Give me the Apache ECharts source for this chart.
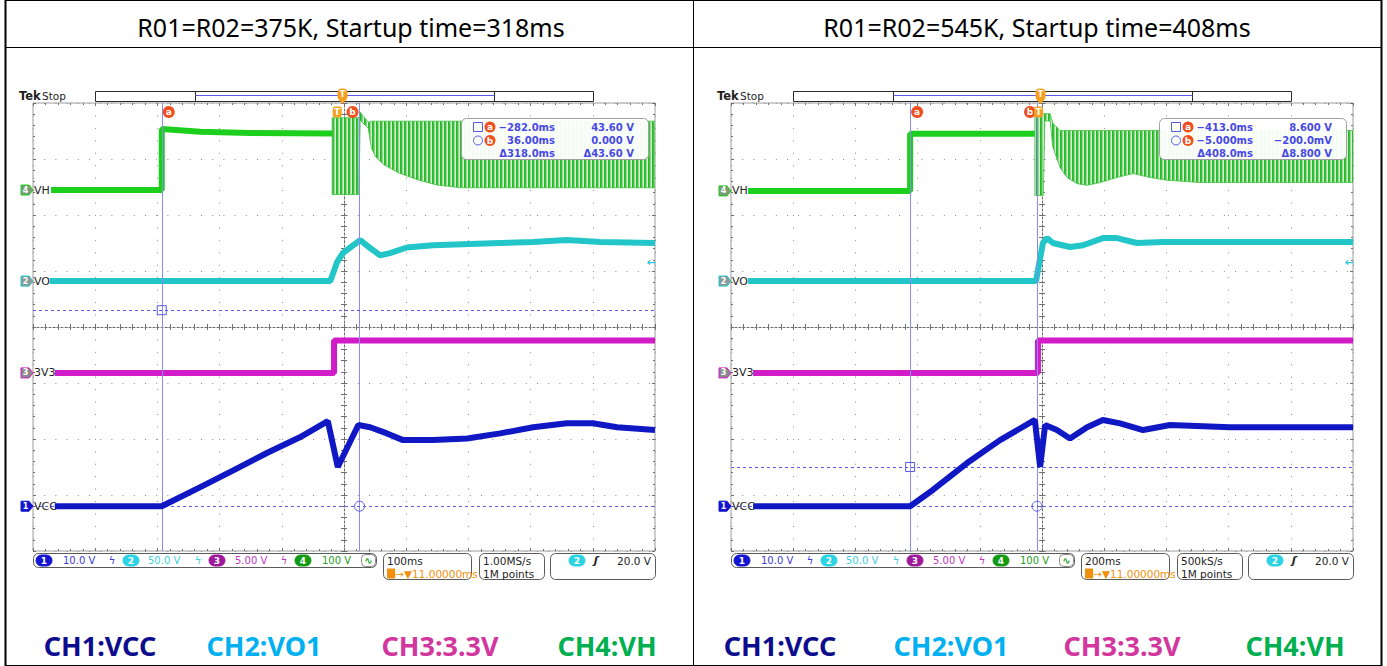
<!DOCTYPE html>
<html><head><meta charset="utf-8">
<script src="https://cdn.jsdelivr.net/npm/echarts@6/dist/echarts.min.js"></script>
<style>html,body{margin:0;padding:0;background:#fff;}#c{width:1387px;height:666px;}</style>
</head><body><div id="c"></div>
<script>
// ================= DATA =================
const panelTitles = ['R01=R02=375K, Startup time=318ms', 'R01=R02=545K, Startup time=408ms'];
const legendLabels = ['CH1:VCC', 'CH2:VO1', 'CH3:3.3V', 'CH4:VH'];
const channelNames = ['VCC', 'VO', '3V3', 'VH'];
const channelNums = ['1', '2', '3', '4'];
const voltsPerDiv = [10, 50, 5, 100];            // CH1..CH4
const voltsLabels = ['10.0 V', '50.0 V', '5.00 V', '100 V'];
const timePerDiv = [100, 200];                   // ms / div
const timeLabels = ['100ms', '200ms'];
const triggerDelay = 11;                         // ms
const triggerLabel = '11.00000ms';
const rateLabels = ['1.00MS/s', '500kS/s'];
const pointLabels = ['1M points', '1M points'];
const trigLevelLabel = '20.0 V';
const cursorA = [-282, -413];                    // ms
const cursorB = [36, -5];                        // ms
const readouts = [
  [['\u2212282.0ms', '43.60 V'], ['36.00ms', '0.000 V'], ['\u0394318.0ms', '\u039443.60 V']],
  [['\u2212413.0ms', '8.600 V'], ['\u22125.000ms', '\u2212200.0mV'], ['\u0394408.0ms', '\u03948.800 V']]
];

// ---- left panel traces: [time ms, volts] ----
const L_VCC = [[-454,0],[-282,0],[-220,3.4],[-167,6.4],[-113,9.5],[-60,12.3],[-15,15.2],[1,7.0],[34,14.5],[53,14.1],[80,13.0],[106,11.8],[154,11.8],[209,12.1],[262,13.0],[315,14.1],[369,14.8],[411,14.8],[450,14.1],[511,13.6]];
const L_VO  = [[-462,0],[-11,0],[0,17],[9,25],[21,30],[37,36.6],[53,29.5],[69,23],[85,25],[112,30],[154,32],[262,34],[315,35],[369,36.6],[423,35],[511,34]];
const L_3V3 = [[-454,0],[-5,0],[-5,2.9],[511,2.9]];
const L_VH  = [[-460,0],[-282,0],[-282,109],[-220,104],[-140,102],[-8,101]];
const L_VH_T  = [-8, 35, 37, 50, 55, 62, 75, 100, 130, 160, 200, 511];
const L_VH_HI = [129, 129, 139, 121, 123, 123, 123, 123, 123, 123, 123, 123];
const L_VH_LO = [-8, -8, 125, 110, 75, 59, 45, 30, 18, 9, 4, 4];

// ---- right panel traces ----
const R_VCC = [[-918,0],[-413,0],[-340,2.9],[-230,7.7],[-124,11.8],[-12,15.4],[5,7.0],[21,14.5],[59,13.6],[101,12.1],[156,14.1],[207,15.4],[262,14.8],[336,13.6],[423,14.5],[615,14.1],[1011,14.1]];
const R_VO  = [[-934,0],[-8,0],[-2,9.8],[14,34],[27,38.4],[46,34],[101,30.4],[143,32],[207,38.4],[252,38.4],[316,34],[400,34.8],[615,34.8],[1011,34.8]];
const R_3V3 = [[-918,0],[-2,0],[-2,2.9],[1011,2.9]];
const R_VH  = [[-934,0],[-413,0],[-413,102],[-12,102]];
const R_VH_T  = [-12, 15, 20, 37, 46, 69, 91, 124, 156, 198, 252, 304, 358, 413, 519, 735, 1011];
const R_VH_HI = [138, 138, 138, 138, 121, 108, 108, 108, 108, 108, 108, 108, 108, 108, 108, 108, 108];
const R_VH_LO = [-8, -8, 125, 125, 78, 42, 24, 13, 10, 15, 24, 31, 24, 19, 15, 15, 15];

// ================= LAYOUT / STYLE =================
const chOffset = [[-3.2, 0.82, -0.82, 2.446], [-3.2, 0.82, -0.82, 2.43]]; // ground marker, divisions from centre
const cursorLevel = [[0.30, -3.2], [-2.5, -3.2]];                        // horizontal cursor positions (div)
const chColor = ['#1018c4', '#22c6c8', '#d21cc8', '#1ccf1c'];
const chUiColor = ['#3c3cdc', '#3ccfe0', '#c038c0', '#22a022'];
const chTagFill = ['#1414d2', '#8a9a9a', '#8a8a8a', '#7a9a7a'];
const chBadge = ['#1414d2', '#2ad4e4', '#a0189c', '#129a12'];
const legendColors = ['#0c0c8c', '#00b0f0', '#d2379e', '#00b050'];
const GX = [33, 731], GY = 103, GW = 622, GH = 448;
const DIV = 56;
const scopeFont = '"DejaVu Sans", Verdana, sans-serif';

const pattern = (() => {
  const c = document.createElement('canvas'); c.width = 4; c.height = 4;
  const g = c.getContext('2d');
  const cols = ['#26b826', '#3cc43c', '#92d892', '#d4f0d4'];
  for (let i = 0; i < 4; i++) { g.fillStyle = cols[i]; g.fillRect(i, 0, 1, 4); }
  return { image: c.toDataURL(), repeat: 'repeat', imageWidth: 4, imageHeight: 4 };
})();

const traces = [
  { VCC: L_VCC, VO: L_VO, V33: L_3V3, VH: L_VH, T: L_VH_T, HI: L_VH_HI, LO: L_VH_LO },
  { VCC: R_VCC, VO: R_VO, V33: R_3V3, VH: R_VH, T: R_VH_T, HI: R_VH_HI, LO: R_VH_LO }
];

const toDiv = (arr, off, sc) => arr.map(([t, v]) => [t, off + v / sc]);

const chart = echarts.init(document.getElementById('c'), null, { renderer: 'svg', width: 1387, height: 666 });

const grids = [], xAxes = [], yAxes = [], series = [], graphics = [];
const tickStyle = { color: '#707070', width: 1 };

function divAxis(extra) {
  return Object.assign({
    type: 'value', min: -5, max: 5, interval: 1, axisLabel: { show: false },
    splitLine: { show: false }, axisLine: { show: false, onZero: false },
    axisTick: { show: false }, minorTick: { show: false }, silent: true
  }, extra);
}

for (let p = 0; p < 2; p++) {
  const dx = GX[p] - GX[0];
  grids.push({ left: GX[p], top: GY, width: GW, height: GH, show: true, borderColor: '#9c9c9c', borderWidth: 1, backgroundColor: 'rgba(0,0,0,0)' });
  const tMin = triggerDelay - 5 * timePerDiv[p], tMax = triggerDelay + 5 * timePerDiv[p];
  const xi = xAxes.length, yi = yAxes.length;
  xAxes.push({ type: 'value', gridIndex: p, min: tMin, max: tMax, show: false, position: 'top' });
  xAxes.push(divAxis({ gridIndex: p, position: 'bottom',
    splitLine: { show: true, lineStyle: { color: '#8c8c8c', type: [1, 11.44], width: 1 } },
    axisLine: { show: true, onZero: true, onZeroAxisIndex: yi, lineStyle: { color: '#6a6a6a', type: [2, 2], width: 1 } },
    axisTick: { show: true, length: 3, lineStyle: tickStyle },
    minorTick: { show: true, splitNumber: 5, length: 3, lineStyle: tickStyle } }));
  xAxes.push(divAxis({ gridIndex: p, position: 'bottom',
    axisLine: { show: false, onZero: true, onZeroAxisIndex: yi },
    axisTick: { show: true, inside: true, length: 3, lineStyle: tickStyle },
    minorTick: { show: true, splitNumber: 5, length: 3, lineStyle: tickStyle } }));
  xAxes.push(divAxis({ gridIndex: p, position: 'top',
    axisTick: { show: true, inside: true, length: 3, lineStyle: tickStyle },
    minorTick: { show: true, splitNumber: 5, length: 2, lineStyle: tickStyle } }));
  xAxes.push(divAxis({ gridIndex: p, position: 'bottom',
    axisTick: { show: true, inside: true, length: 3, lineStyle: tickStyle },
    minorTick: { show: true, splitNumber: 5, length: 2, lineStyle: tickStyle } }));

  yAxes.push(divAxis({ gridIndex: p, min: -4, max: 4, position: 'left',
    splitLine: { show: true, lineStyle: { color: '#8c8c8c', type: [1, 10.2], width: 1 } },
    axisLine: { show: true, onZero: true, onZeroAxisIndex: xi + 1, lineStyle: { color: '#6a6a6a', type: [2, 2], width: 1 } },
    axisTick: { show: true, length: 3, lineStyle: tickStyle },
    minorTick: { show: true, splitNumber: 5, length: 3, lineStyle: tickStyle } }));
  yAxes.push(divAxis({ gridIndex: p, min: -4, max: 4, position: 'left',
    axisLine: { show: false, onZero: true, onZeroAxisIndex: xi + 1 },
    axisTick: { show: true, inside: true, length: 3, lineStyle: tickStyle },
    minorTick: { show: true, splitNumber: 5, length: 3, lineStyle: tickStyle } }));
  yAxes.push(divAxis({ gridIndex: p, min: -4, max: 4, position: 'left',
    axisTick: { show: true, inside: true, length: 3, lineStyle: tickStyle },
    minorTick: { show: true, splitNumber: 5, length: 2, lineStyle: tickStyle } }));
  yAxes.push(divAxis({ gridIndex: p, min: -4, max: 4, position: 'right',
    axisTick: { show: true, inside: true, length: 3, lineStyle: tickStyle },
    minorTick: { show: true, splitNumber: 5, length: 2, lineStyle: tickStyle } }));

  const tr = traces[p], off = chOffset[p];
  const base = { type: 'line', xAxisIndex: xi, yAxisIndex: yi, showSymbol: false, symbol: 'none', silent: true, animation: false };
  const cur = '#8a8af2', curH = '#5a5ae6';
  const lbl = (s) => ({ show: true, formatter: s, color: '#fff', fontSize: 9, fontWeight: 'bold', position: 'inside', fontFamily: 'DejaVu Sans' });
  series.push(Object.assign({}, base, {
    name: 'VCC' + p, data: toDiv(tr.VCC, off[0], voltsPerDiv[0]), z: 5,
    lineStyle: { color: chColor[0], width: 6 },
    markLine: { silent: true, symbol: ['none', 'none'], animation: false, label: { show: false },
      data: [
        { xAxis: cursorA[p], lineStyle: { color: cur, width: 1, type: 'solid' } },
        { xAxis: cursorB[p], lineStyle: { color: cur, width: 1, type: 'solid' } },
        { yAxis: cursorLevel[p][0], lineStyle: { color: curH, width: 1, type: [3, 3] } },
        { yAxis: cursorLevel[p][1], lineStyle: { color: curH, width: 1, type: [3, 3] } }
      ] },
    markPoint: { silent: true, animation: false,
      data: [
        { coord: [cursorA[p], cursorLevel[p][0]], symbol: 'rect', symbolSize: 9, itemStyle: { color: 'rgba(255,255,255,0)', borderColor: curH, borderWidth: 1 }, label: { show: false } },
        { coord: [cursorB[p], cursorLevel[p][1]], symbol: 'circle', symbolSize: 10, itemStyle: { color: 'rgba(255,255,255,0)', borderColor: curH, borderWidth: 1 }, label: { show: false } },
        { coord: [cursorA[p], 3.84], symbol: 'circle', symbolSize: 12, symbolOffset: [7, 0], itemStyle: { color: '#f0501e' }, label: lbl('a') },
        { coord: [cursorB[p], 3.84], symbol: 'circle', symbolSize: 12, symbolOffset: [-7, 0], itemStyle: { color: '#f0501e' }, label: lbl('b') },
        { coord: [0, 3.84], symbol: 'roundRect', symbolSize: [9, 11], itemStyle: { color: '#f5a020' }, label: lbl('T') }
      ] }
  }));
  series.push(Object.assign({}, base, { name: 'VO' + p, data: toDiv(tr.VO, off[1], voltsPerDiv[1]), z: 4, lineStyle: { color: chColor[1], width: 6 } }));
  series.push(Object.assign({}, base, { name: '3V3' + p, data: toDiv(tr.V33, off[2], voltsPerDiv[2]), z: 4, lineStyle: { color: chColor[2], width: 6 } }));
  series.push(Object.assign({}, base, { name: 'VH' + p, data: toDiv(tr.VH, off[3], voltsPerDiv[3]), z: 4, lineStyle: { color: chColor[3], width: 6 } }));
  const band = tr.T.map((t, i) => [t, off[3] + tr.LO[i] / voltsPerDiv[3], off[3] + tr.HI[i] / voltsPerDiv[3]]);
  series.push({ type: 'custom', name: 'VHosc' + p, xAxisIndex: xi, yAxisIndex: yi, data: band, encode: { x: 0, y: [1, 2] },
    clip: true, silent: true, animation: false, z: 3,
    renderItem: function (params, api) {
      if (params.dataIndex !== 0) return null;
      const up = [], dn = [];
      band.forEach(d => { up.push(api.coord([d[0], d[2]])); dn.push(api.coord([d[0], d[1]])); });
      return { type: 'polygon', shape: { points: up.concat(dn.reverse()) }, style: { fill: pattern, stroke: '#40c040', lineWidth: 0.8 } };
    } });

  // ---------- scope decorations (graphic) ----------
  const T = (x, y, text, font, fill, align, extra) => Object.assign({ type: 'text', silent: true, z: 20,
    style: { x: x, y: y, text: text, font: font, fill: fill, align: align || 'left', textAlign: align || 'left', verticalAlign: 'middle', textVerticalAlign: 'middle' } }, extra || {});
  const R = (x, y, w, h, r, stroke, fill, extra) => Object.assign({ type: 'rect', silent: true, z: 18,
    shape: { x: x, y: y, width: w, height: h, r: r }, style: { stroke: stroke, fill: fill || 'rgba(0,0,0,0)', lineWidth: 1 } }, extra || {});
  const L = (x1, y1, x2, y2, stroke, w) => ({ type: 'line', silent: true, z: 19, shape: { x1, y1, x2, y2 }, style: { stroke, lineWidth: w || 1 } });

  graphics.push(T(19 + dx, 96, 'Tek', 'bold 11.5px ' + scopeFont, '#1e1e1e'));
  graphics.push(T(42 + dx, 96, 'Stop', '10.5px ' + scopeFont, '#1e1e1e'));
  graphics.push(R(95.5 + dx, 91.5, 498, 10, 0, '#2a2a2a', '#fff'));
  graphics.push(L(195.5 + dx, 91.5, 195.5 + dx, 101.5, '#2a2a2a'));
  graphics.push(L(494.5 + dx, 91.5, 494.5 + dx, 101.5, '#2a2a2a'));
  graphics.push(L(195.5 + dx, 95.5, 494.5 + dx, 95.5, '#5a5ae6'));
  graphics.push(R(338 + dx, 89, 9, 11, 3, '#f5a020', '#f5a020', { z: 21 }));
  graphics.push(T(342.5 + dx, 94.5, 'T', 'bold 8px ' + scopeFont, '#fff', 'center', { z: 22 }));
  graphics.push({ type: 'polygon', silent: true, z: 21, shape: { points: [[339 + dx, 100], [346 + dx, 100], [342.5 + dx, 104]] }, style: { fill: '#f5a020' } });

  for (let c = 0; c < 4; c++) {
    const y = GY + (4 - off[c]) * DIV;
    graphics.push({ type: 'polygon', silent: true, z: 20, shape: { points: [[21 + dx, y - 5], [29 + dx, y - 5], [33 + dx, y], [29 + dx, y + 5], [21 + dx, y + 5]] },
      style: { fill: chTagFill[c], stroke: chColor[c], lineWidth: 1 } });
    graphics.push(T(25.5 + dx, y, channelNums[c], 'bold 8px ' + scopeFont, '#fff', 'center', { z: 21 }));
    graphics.push(T(34 + dx, y, channelNames[c], '11px ' + scopeFont, '#222', 'left', { z: 21 }));
  }

  graphics.push(R(461.5 + dx, 118.5, 187, 41, 5, '#a0a0a0', 'rgba(255,255,255,0.95)', { z: 18 }));
  const rowY = [127, 140.5, 153.5];
  graphics.push(R(473.5 + dx, 122.5, 9, 9, 0, curH, 'rgba(0,0,0,0)', { z: 20 }));
  graphics.push({ type: 'circle', silent: true, z: 20, shape: { cx: 478 + dx, cy: 140.5, r: 4.5 }, style: { stroke: curH, fill: 'rgba(0,0,0,0)' } });
  ['a', 'b'].forEach((s, i) => {
    graphics.push({ type: 'circle', silent: true, z: 20, shape: { cx: 490 + dx, cy: rowY[i], r: 5.5 }, style: { fill: '#f0501e' } });
    graphics.push(T(490 + dx, rowY[i], s, 'bold 9px ' + scopeFont, '#fff', 'center', { z: 21 }));
  });
  readouts[p].forEach((row, i) => {
    graphics.push(T(555 + dx, rowY[i], row[0], 'bold 10px ' + scopeFont, '#4848e6', 'right'));
    graphics.push(T(634 + dx, rowY[i], row[1], 'bold 10px ' + scopeFont, '#4848e6', 'right'));
  });
  graphics.push(T(651 + dx, 262, '\u2190', 'bold 11px ' + scopeFont, '#22c6d8', 'center'));

  const sy = 560.5;
  graphics.push(R(33.5 + dx, 553.5, 343, 14, 5, '#5a5a5a', '#fff'));
  const badgeX = [44, 131, 217, 303], valX = [63, 148, 235, 322], glyphX = [112, 198, 284];
  for (let c = 0; c < 4; c++) {
    graphics.push(R(badgeX[c] - 8 + dx, sy - 5.5, 16, 11, 5.5, chBadge[c], chBadge[c], { z: 19 }));
    graphics.push(T(badgeX[c] + dx, sy, channelNums[c], 'bold 9px ' + scopeFont, '#fff', 'center', { z: 21 }));
    graphics.push(T(valX[c] + dx, sy, voltsLabels[c], '10px ' + scopeFont, chUiColor[c]));
    if (c < 3) graphics.push(T(glyphX[c] + dx, sy, '\u03df', '10px ' + scopeFont, chUiColor[c], 'center'));
  }
  graphics.push(R(361.5 + dx, 554.5, 14, 12, 4, '#8a8a8a', '#fff'));
  graphics.push(T(368.5 + dx, sy, '\u223f', 'bold 10px ' + scopeFont, '#22a022', 'center', { z: 21 }));

  graphics.push(R(383.5 + dx, 553.5, 88, 26, 5, '#5a5a5a', '#fff'));
  graphics.push(T(387 + dx, sy, timeLabels[p], '10.5px ' + scopeFont, '#1e1e1e'));
  graphics.push({ type: 'text', silent: true, z: 20,
    style: { x: 387 + dx, y: 573.5, text: '{t|T}\u2192\u25bc' + triggerLabel, font: '10.5px ' + scopeFont, fill: '#f0900c', align: 'left', textAlign: 'left', verticalAlign: 'middle', textVerticalAlign: 'middle',
      rich: { t: { backgroundColor: '#f0900c', color: '#fff', fontSize: 9, fontWeight: 'bold', padding: [1, 1, 0, 1], fontFamily: 'DejaVu Sans' } } } });
  graphics.push(R(479.5 + dx, 553.5, 65, 26, 5, '#5a5a5a', '#fff'));
  graphics.push(T(483 + dx, sy, rateLabels[p], '10.5px ' + scopeFont, '#1e1e1e'));
  graphics.push(T(483 + dx, 573.5, pointLabels[p], '10.5px ' + scopeFont, '#1e1e1e'));
  graphics.push(R(550.5 + dx, 553.5, 105, 26, 5, '#5a5a5a', '#fff'));
  graphics.push(R(569 + dx, sy - 5.5, 16, 11, 5.5, chBadge[1], chBadge[1], { z: 19 }));
  graphics.push(T(577 + dx, sy, '2', 'bold 9px ' + scopeFont, '#fff', 'center', { z: 21 }));
  graphics.push(T(596 + dx, sy, '\u0283', 'bold italic 11px ' + scopeFont, '#1e1e1e', 'center'));
  graphics.push(T(651 + dx, sy, trigLevelLabel, '10.5px ' + scopeFont, '#1e1e1e', 'right'));
}

// ---------- table & texts ----------
const tb = '#000';
const tl = (x1, y1, x2, y2, w) => ({ type: 'line', silent: true, z: 30, shape: { x1, y1, x2, y2 }, style: { stroke: tb, lineWidth: w || 1 } });
graphics.push(tl(5, 0.5, 1382, 0.5));
graphics.push(tl(5, 47.5, 1382, 47.5));
graphics.push(tl(5, 665.5, 1382, 665.5));
graphics.push(tl(5.5, 0, 5.5, 666, 2));
graphics.push(tl(693.5, 0, 693.5, 666, 1));
graphics.push(tl(1381.5, 0, 1381.5, 666, 2));
const titleX = [351, 1037];
panelTitles.forEach((t, i) => graphics.push({ type: 'text', silent: true, z: 30,
  style: { x: titleX[i], y: 27, text: t, font: '25px "Noto Sans", sans-serif', fill: '#000', align: 'center', textAlign: 'center', verticalAlign: 'middle', textVerticalAlign: 'middle' } }));
const legendX = [[100, 264, 440, 607], [780, 951, 1122, 1295]];
for (let p = 0; p < 2; p++) legendLabels.forEach((t, i) => graphics.push({ type: 'text', silent: true, z: 30,
  style: { x: legendX[p][i], y: 645, text: t, font: 'bold 27px "Noto Sans", sans-serif', fill: legendColors[i], align: 'center', textAlign: 'center', verticalAlign: 'middle', textVerticalAlign: 'middle' } }));

chart.setOption({
  animation: false,
  backgroundColor: '#fff',
  grid: grids, xAxis: xAxes, yAxis: yAxes, series: series,
  graphic: { elements: graphics }
});
</script></body></html>
